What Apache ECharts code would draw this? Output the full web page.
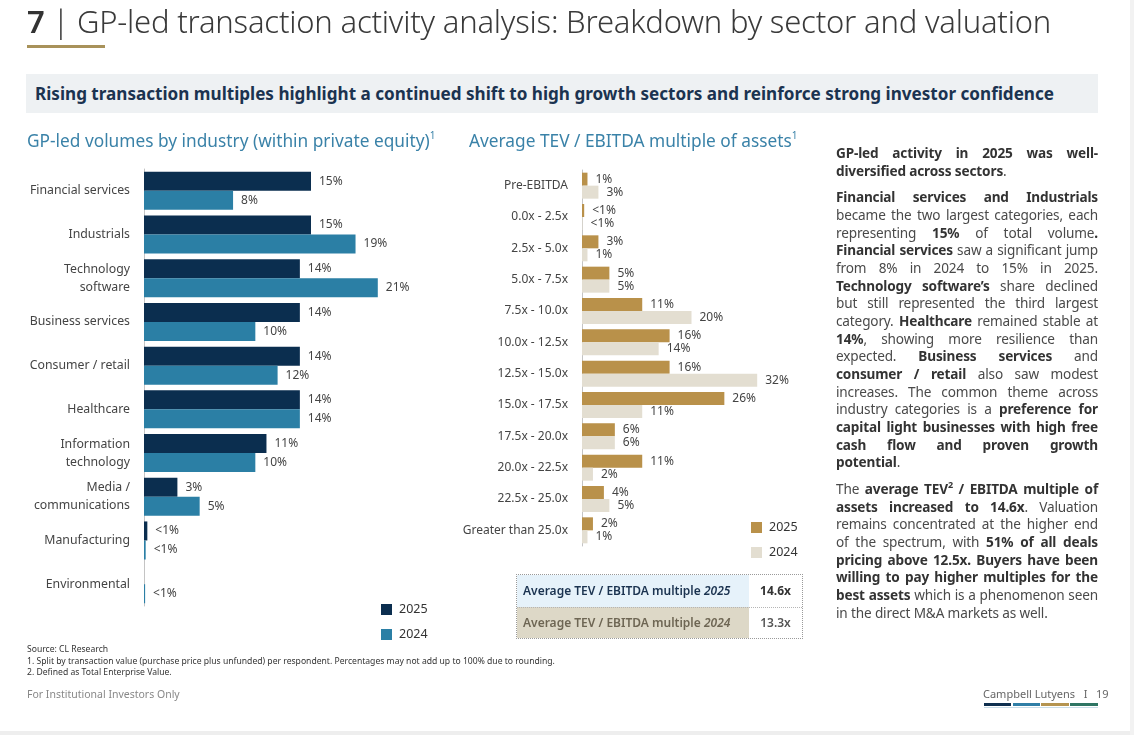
<!DOCTYPE html>
<html>
<head>
<meta charset="utf-8">
<script src="https://cdn.jsdelivr.net/npm/echarts@6/dist/echarts.min.js"></script>
<style>
  html,body{margin:0;padding:0;}
  body{width:1134px;height:735px;position:relative;background:#fff;overflow:hidden;font-family:"Noto Sans","Open Sans",sans-serif;color:#333;}
  .abs{position:absolute;}
  #chart{position:absolute;left:0;top:0;width:1134px;height:735px;}
  .para .ln{height:17.7px;line-height:17.7px;white-space:nowrap;text-align:justify;text-align-last:justify;}
  .para .ln.last{text-align-last:left;}
  .para b{font-weight:700;color:#333;}
  .para{font-size:13.6px;letter-spacing:-0.15px;color:#4a4a4a;}
  .gap{height:8.8px;}
</style>
</head>
<body>
<div id="chart"></div>

<!-- header -->
<div class="abs" style="left:27px;top:0px;font-size:31px;line-height:42px;color:#3a3a3a;font-weight:300;white-space:nowrap;letter-spacing:-0.2px;"><span style="font-weight:600;color:#333">7</span> | GP-led transaction activity analysis: Breakdown by sector and valuation</div>
<div class="abs" style="left:27px;top:45px;width:78px;height:3px;background:#a8925a;"></div>

<div class="abs" style="left:26px;top:74px;width:1072px;height:39px;background:#eef1f3;"></div>
<div class="abs" style="left:35px;top:74px;height:39px;line-height:39px;font-size:17.1px;font-weight:700;color:#1b3350;white-space:nowrap;">Rising transaction multiples highlight a continued shift to high growth sectors and reinforce strong investor confidence</div>

<div class="abs" style="left:27px;top:128px;font-size:17.3px;line-height:26px;color:#3a82a8;white-space:nowrap;">GP-led volumes by industry (within private equity)<sup style="font-size:10px;vertical-align:8px;line-height:0">1</sup></div>
<div class="abs" style="left:469px;top:128px;font-size:17.3px;line-height:26px;color:#3a82a8;white-space:nowrap;">Average TEV / EBITDA multiple of assets<sup style="font-size:10px;vertical-align:8px;line-height:0">1</sup></div>

<!-- commentary -->
<div class="abs para" style="left:836px;top:144px;width:262px;">
  <div class="ln"><b>GP-led activity in 2025 was well-</b></div>
  <div class="ln last"><b>diversified across sectors</b>.</div>
  <div class="gap"></div>
  <div class="ln"><b>Financial services and Industrials</b></div>
  <div class="ln">became the two largest categories, each</div>
  <div class="ln">representing <b>15%</b> of total volume<b>.</b></div>
  <div class="ln"><b>Financial services</b> saw a significant jump</div>
  <div class="ln">from 8% in 2024 to 15% in 2025.</div>
  <div class="ln"><b>Technology software’s</b> share declined</div>
  <div class="ln">but still represented the third largest</div>
  <div class="ln">category. <b>Healthcare</b> remained stable at</div>
  <div class="ln"><b>14%</b>, showing more resilience than</div>
  <div class="ln">expected. <b>Business services</b> and</div>
  <div class="ln"><b>consumer / retail</b> also saw modest</div>
  <div class="ln">increases. The common theme across</div>
  <div class="ln">industry categories is a <b>preference for</b></div>
  <div class="ln"><b>capital light businesses with high free</b></div>
  <div class="ln"><b>cash flow and proven growth</b></div>
  <div class="ln last"><b>potential</b>.</div>
  <div class="gap"></div>
  <div class="ln">The <b>average TEV<sup style="font-size:9px;line-height:0">2</sup> / EBITDA multiple of</b></div>
  <div class="ln"><b>assets increased to 14.6x</b>. Valuation</div>
  <div class="ln">remains concentrated at the higher end</div>
  <div class="ln">of the spectrum, with <b>51% of all deals</b></div>
  <div class="ln"><b>pricing above 12.5x. Buyers have been</b></div>
  <div class="ln"><b>willing to pay higher multiples for the</b></div>
  <div class="ln"><b>best assets</b> which is a phenomenon seen</div>
  <div class="ln last">in the direct M&amp;A markets as well.</div>
</div>

<!-- TEV table -->
<div class="abs" style="left:516px;top:574px;width:285px;height:63px;border:1px dotted #9a9a9a;">
  <div class="abs" style="left:0;top:0;width:232px;height:32px;background:#e6f2fa;"></div>
  <div class="abs" style="left:0;top:32px;width:232px;height:31px;background:#ddd8c7;"></div>
  <div class="abs" style="left:0;top:32px;width:285px;height:0;border-top:1px dotted #b5b5b5;"></div>
  <div class="abs" style="left:6px;top:0;height:32px;line-height:32px;font-size:12px;font-weight:600;color:#1b3350;white-space:nowrap;">Average TEV / EBITDA multiple <i>2025</i></div>
  <div class="abs" style="left:232px;top:0;width:53px;height:32px;line-height:32px;font-size:12px;font-weight:700;color:#333;text-align:center;">14.6x</div>
  <div class="abs" style="left:6px;top:32px;height:31px;line-height:31px;font-size:12px;font-weight:600;color:#6e6654;white-space:nowrap;">Average TEV / EBITDA multiple <i>2024</i></div>
  <div class="abs" style="left:232px;top:32px;width:53px;height:31px;line-height:31px;font-size:12px;font-weight:600;color:#555;text-align:center;">13.3x</div>
</div>

<!-- footer -->
<div class="abs" style="left:27px;top:644px;font-size:8.6px;line-height:11.6px;color:#333;white-space:nowrap;">
  Source: CL Research<br>
  1. Split by transaction value (purchase price plus unfunded) per respondent. Percentages may not add up to 100% due to rounding.<br>
  2. Defined as Total Enterprise Value.
</div>
<div class="abs" style="left:27px;top:686px;font-size:10.5px;line-height:16px;color:#888;white-space:nowrap;">For Institutional Investors Only</div>
<div class="abs" style="left:983px;top:686px;width:115px;font-size:11px;line-height:16px;color:#666;white-space:nowrap;text-align:right;">Campbell Lutyens &nbsp; I &nbsp; 19</div>
<div class="abs" style="left:984px;top:703px;width:27px;height:3px;background:#0e2f4f;"></div>
<div class="abs" style="left:1013px;top:703px;width:27px;height:3px;background:#2f7ea6;"></div>
<div class="abs" style="left:1041px;top:703px;width:28px;height:3px;background:#b59450;"></div>
<div class="abs" style="left:1070px;top:703px;width:28px;height:3px;background:#2e7563;"></div>
<div class="abs" style="left:984px;top:707px;width:114px;height:1px;background:#c9dde8;"></div>
<div class="abs" style="left:0;top:731px;width:1134px;height:4px;background:#eeeeee;"></div>
<div class="abs" style="left:1130px;top:0;width:4px;height:735px;background:#f2f2f2;"></div>

<script>
// ---- data: industry breakdown ----
const industries = ['Financial services','Industrials','Technology\nsoftware','Business services','Consumer / retail','Healthcare','Information\ntechnology','Media /\ncommunications','Manufacturing','Environmental'];
const industry2025 = [15, 15, 14, 14, 14, 14, 11, 3, 0.3, 0];
const industry2024 = [8, 19, 21, 10, 12, 14, 10, 5, 0.15, 0.1];
const industryLabels2025 = ['15%','15%','14%','14%','14%','14%','11%','3%','<1%',''];
const industryLabels2024 = ['8%','19%','21%','10%','12%','14%','10%','5%','<1%','<1%'];

// ---- data: TEV / EBITDA multiple ----
const multiples = ['Pre-EBITDA','0.0x - 2.5x','2.5x - 5.0x','5.0x - 7.5x','7.5x - 10.0x','10.0x - 12.5x','12.5x - 15.0x','15.0x - 17.5x','17.5x - 20.0x','20.0x - 22.5x','22.5x - 25.0x','Greater than 25.0x'];
const multiple2025 = [1, 0.4, 3, 5, 11, 16, 16, 26, 6, 11, 4, 2];
const multiple2024 = [3, 0.1, 1, 5, 20, 14, 32, 11, 6, 2, 5, 1];
const multipleLabels2025 = ['1%','<1%','3%','5%','11%','16%','16%','26%','6%','11%','4%','2%'];
const multipleLabels2024 = ['3%','<1%','1%','5%','20%','14%','32%','11%','6%','2%','5%','1%'];

const years = ['2025', '2024'];

const FONT = '"Noto Sans", "Open Sans", sans-serif';
const colInd = ['#0b2e4f', '#2b7fa5'];
const colMul = ['#b9914a', '#e3ded1'];

function lbl(arr, size) {
  return {
    show: true, position: 'right', distance: 8,
    fontSize: size, color: '#444', fontFamily: FONT,
    formatter: p => arr[p.dataIndex]
  };
}

const chart = echarts.init(document.getElementById('chart'), null, {renderer: 'canvas'});
chart.setOption({
  animation: false,
  textStyle: {fontFamily: FONT},
  grid: [
    {left: 144, top: 169, width: 334, height: 437},
    {left: 582, top: 170, width: 219, height: 376}
  ],
  xAxis: [
    {gridIndex: 0, type: 'value', min: 0, max: 30, show: false},
    {gridIndex: 1, type: 'value', min: 0, max: 40, show: false}
  ],
  yAxis: [
    {gridIndex: 0, type: 'category', data: industries, inverse: true,
     axisLine: {show: true, lineStyle: {color: '#c4c4c4', width: 1}},
     axisTick: {show: false}, splitLine: {show: false},
     axisLabel: {margin: 14, fontSize: 12.3, color: '#444', lineHeight: 18, fontFamily: FONT}},
    {gridIndex: 1, type: 'category', data: multiples, inverse: true,
     axisLine: {show: true, lineStyle: {color: '#c4c4c4', width: 1}},
     axisTick: {show: false}, splitLine: {show: false},
     axisLabel: {margin: 14, fontSize: 12, color: '#444', fontFamily: FONT}}
  ],
  legend: [
    {data: years, left: 376, top: 598, orient: 'vertical', icon: 'rect',
     itemWidth: 11, itemHeight: 11, itemGap: 12,
     textStyle: {fontSize: 12.5, color: '#333', fontFamily: FONT, padding: [0,0,0,2]}},
    {data: years.map(y => y + ' '), left: 746, top: 516, orient: 'vertical', icon: 'rect',
     itemWidth: 11, itemHeight: 11, itemGap: 12,
     formatter: n => n.trim(),
     textStyle: {fontSize: 12.5, color: '#333', fontFamily: FONT, padding: [0,0,0,2]}}
  ],
  series: [
    {name: years[0], type: 'bar', xAxisIndex: 0, yAxisIndex: 0, data: industry2025,
     barGap: '0%', barCategoryGap: '13%', itemStyle: {color: colInd[0]}, label: lbl(industryLabels2025, 12)},
    {name: years[1], type: 'bar', xAxisIndex: 0, yAxisIndex: 0, data: industry2024,
     barGap: '0%', barCategoryGap: '13%', itemStyle: {color: colInd[1]}, label: lbl(industryLabels2024, 12)},
    {name: years[0] + ' ', type: 'bar', xAxisIndex: 1, yAxisIndex: 1, data: multiple2025,
     barGap: '0%', barCategoryGap: '17%', itemStyle: {color: colMul[0]}, label: lbl(multipleLabels2025, 12)},
    {name: years[1] + ' ', type: 'bar', xAxisIndex: 1, yAxisIndex: 1, data: multiple2024,
     barGap: '0%', barCategoryGap: '17%', itemStyle: {color: colMul[1]}, label: lbl(multipleLabels2024, 12)}
  ]
});
</script>
</body>
</html>
